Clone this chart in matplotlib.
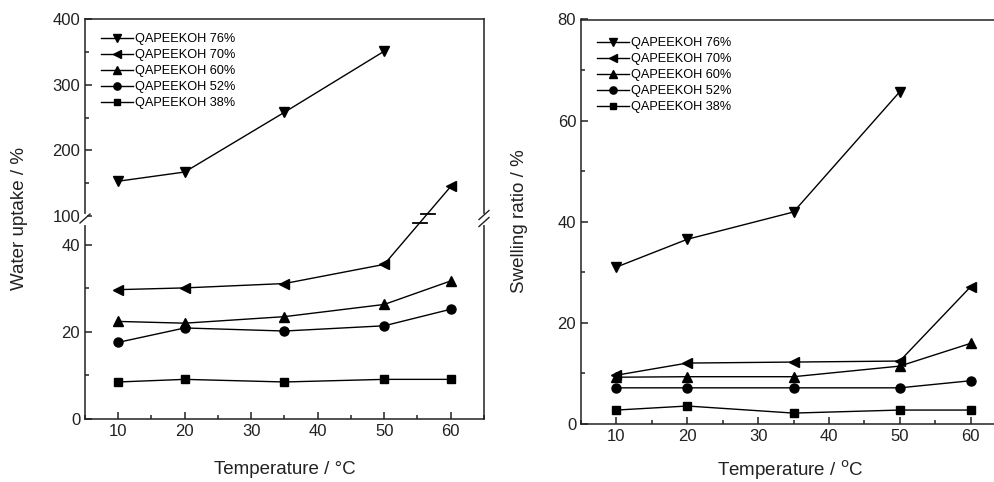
import matplotlib
matplotlib.use("Agg")
import matplotlib.pyplot as plt
from matplotlib.patches import ConnectionPatch
from matplotlib.lines import Line2D
from matplotlib.ticker import MultipleLocator
import numpy as np

plt.rcParams['font.family'] = ['Liberation Sans', 'DejaVu Sans']

temps = [10, 20, 35, 50, 60]
labels = ["QAPEEKOH 76%", "QAPEEKOH 70%", "QAPEEKOH 60%", "QAPEEKOH 52%", "QAPEEKOH 38%"]
markers = ["v", "<", "^", "o", "s"]
msizes = [7.5, 7.5, 7.5, 6.5, 6]

# Water uptake (%)
wu_76 = [153, 167, 258, 351]          # 10..50 C
wu_70 = [29.7, 30.1, 31.1, 35.5, 145]
wu_60 = [22.4, 22.0, 23.5, 26.3, 31.7]
wu_52 = [17.6, 20.9, 20.2, 21.4, 25.2]
wu_38 = [8.5, 9.1, 8.5, 9.1, 9.1]

# Swelling ratio (%)
sr_76 = [31.0, 36.5, 41.9, 65.7]
sr_70 = [9.6, 12.0, 12.2, 12.4, 27.1]
sr_60 = [9.2, 9.3, 9.3, 11.4, 15.9]
sr_52 = [7.1, 7.1, 7.1, 7.1, 8.5]
sr_38 = [2.7, 3.5, 2.1, 2.7, 2.7]

W, H = 995, 482
fig = plt.figure(figsize=(W / 100, H / 100), dpi=100)

def fx(px):
    return px / W

def fy(py):
    return 1 - py / H

TICK_FS = 12
LAB_FS = 13.5
LEG_FS = 9.2
LW = 1.0
SPW = 1.1

def style_axes(ax):
    for s in ax.spines.values():
        s.set_linewidth(SPW)
        s.set_color('#222222')
    ax.tick_params(which='both', direction='in', top=False, right=False,
                   labelsize=TICK_FS, width=SPW, colors='#222222')
    ax.tick_params(which='major', length=5)
    ax.tick_params(which='minor', length=3)

# ---------------- left panel (broken axis) ----------------
L, R = 85, 484
ax_up = fig.add_axes([fx(L), fy(216), fx(R) - fx(L), fy(19) - fy(216)])
ax_lo = fig.add_axes([fx(L), fy(419), fx(R) - fx(L), fy(223) - fy(419)])

for ax in (ax_up, ax_lo):
    style_axes(ax)
    ax.set_xlim(5, 65)
    ax.xaxis.set_major_locator(MultipleLocator(10))
    ax.xaxis.set_minor_locator(MultipleLocator(5))

ax_up.set_ylim(100, 400)
ax_up.yaxis.set_major_locator(MultipleLocator(100))
ax_up.yaxis.set_minor_locator(MultipleLocator(50))
ax_up.spines['bottom'].set_visible(False)
ax_up.tick_params(axis='x', which='both', bottom=False, labelbottom=False)

ax_lo.set_ylim(0, 45)
ax_lo.yaxis.set_major_locator(MultipleLocator(20))
ax_lo.yaxis.set_minor_locator(MultipleLocator(10))
ax_lo.spines['top'].set_visible(False)

kw = dict(color='black', lw=LW, mfc='black', mec='black')
ax_up.plot(temps[:4], wu_76, marker=markers[0], ms=msizes[0], **kw)
ax_lo.plot(temps[:4], wu_70[:4], marker=markers[1], ms=msizes[1], **kw)
ax_up.plot(temps[4:], wu_70[4:], marker=markers[1], ms=msizes[1], ls='none',
           color='black', clip_on=False)
ax_lo.plot(temps, wu_60, marker=markers[2], ms=msizes[2], **kw)
ax_lo.plot(temps, wu_52, marker=markers[3], ms=msizes[3], **kw)
ax_lo.plot(temps, wu_38, marker=markers[4], ms=msizes[4], **kw)

# line of 70% crossing the break
con = ConnectionPatch(xyA=(temps[3], wu_70[3]), coordsA=ax_lo.transData,
                      xyB=(temps[4], wu_70[4]), coordsB=ax_up.transData,
                      arrowstyle='-', color='black', lw=LW, shrinkA=0, shrinkB=0)
fig.add_artist(con)

# break marks on the 70% line
pA = fig.transFigure.inverted().transform(ax_lo.transData.transform((temps[3], wu_70[3])))
pB = fig.transFigure.inverted().transform(ax_up.transData.transform((temps[4], wu_70[4])))
for yy in (fy(213.5), fy(222.5)):
    t = (yy - pA[1]) / (pB[1] - pA[1])
    xx = pA[0] + t * (pB[0] - pA[0])
    fig.add_artist(Line2D([xx - fx(7), xx + fx(7)], [yy, yy], color='black', lw=1.3,
                          transform=fig.transFigure, zorder=5))

# spine gaps + slashes
for xs in (fx(L), fx(R)):
    fig.add_artist(Line2D([xs, xs], [fy(223), fy(216)], color='white', lw=3,
                          transform=fig.transFigure))
    for dy in ((0,) if xs == fx(L) else (-3.5, 3.5)):
        fig.add_artist(Line2D([xs - fx(5), xs + fx(5)],
                              [fy(223 + dy), fy(214 + dy)], color='#222222', lw=1.0,
                              transform=fig.transFigure))

handles = [Line2D([], [], color='black', lw=LW, marker=m, ms=s * 0.8, mfc='black')
           for m, s in zip(markers, msizes)]
fig.legend(handles, labels, loc='upper left', bbox_to_anchor=(fx(101), fy(33)),
           frameon=False, fontsize=LEG_FS, handlelength=2.5, handletextpad=0.15,
           labelspacing=0.32, borderpad=0, borderaxespad=0)

fig.text(fx(20), fy(219), "Water uptake / %", rotation=90, ha='center', va='center',
         fontsize=LAB_FS, color='#222222')
fig.text(fx(285), fy(470), "Temperature / \u00b0C", ha='center', va='center',
         fontsize=LAB_FS, color='#222222')

# ---------------- right panel ----------------
RL, RR = 581, 1006
ax_r = fig.add_axes([fx(RL), fy(423.7), fx(RR) - fx(RL), fy(19.5) - fy(423.7)])
style_axes(ax_r)
ax_r.set_xlim(5, 65)
ax_r.set_ylim(0, 80)
ax_r.xaxis.set_major_locator(MultipleLocator(10))
ax_r.xaxis.set_minor_locator(MultipleLocator(5))
ax_r.yaxis.set_major_locator(MultipleLocator(20))
ax_r.yaxis.set_minor_locator(MultipleLocator(10))

ax_r.plot(temps[:4], sr_76, marker=markers[0], ms=msizes[0], **kw)
ax_r.plot(temps, sr_70, marker=markers[1], ms=msizes[1], **kw)
ax_r.plot(temps, sr_60, marker=markers[2], ms=msizes[2], **kw)
ax_r.plot(temps, sr_52, marker=markers[3], ms=msizes[3], **kw)
ax_r.plot(temps, sr_38, marker=markers[4], ms=msizes[4], **kw)

fig.legend(handles, labels, loc='upper left', bbox_to_anchor=(fx(597), fy(37)),
           frameon=False, fontsize=LEG_FS, handlelength=2.5, handletextpad=0.15,
           labelspacing=0.32, borderpad=0, borderaxespad=0)

fig.text(fx(520), fy(221), "Swelling ratio / %", rotation=90, ha='center', va='center',
         fontsize=LAB_FS, color='#222222')
fig.text(fx(790), fy(476), r"Temperature / $^{\mathrm{o}}$C", ha='center', va='baseline',
         fontsize=LAB_FS, color='#222222')

fig.savefig("out.png", dpi=100)
